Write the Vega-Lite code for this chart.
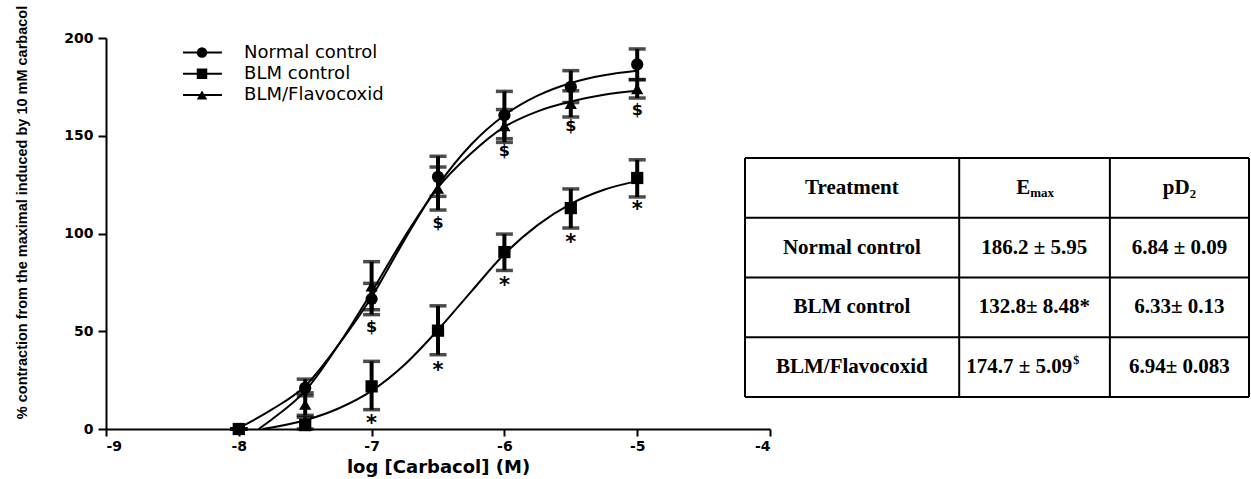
{
  "$schema": "https://vega.github.io/schema/vega-lite/v6.json",
  "autosize": {"type": "none"},
  "padding": {"left": 106, "top": 38, "right": 481, "bottom": 50},
  "width": 664,
  "height": 391,
  "background": "white",
  "config": {"view": {"stroke": null}},
  "datasets": {
    "points": [
      {"series": "BLM/Flavocoxid", "x": -8, "y": 0, "lo": 0, "hi": 0},
      {"series": "BLM/Flavocoxid", "x": -7.5, "y": 12.5, "lo": 7, "hi": 18.5},
      {"series": "BLM/Flavocoxid", "x": -7, "y": 73, "lo": 61, "hi": 85.6},
      {"series": "BLM/Flavocoxid", "x": -6.5, "y": 123, "lo": 112, "hi": 134},
      {"series": "BLM/Flavocoxid", "x": -6, "y": 155, "lo": 146.6, "hi": 163.4},
      {"series": "BLM/Flavocoxid", "x": -5.5, "y": 166.4, "lo": 159.6, "hi": 173},
      {"series": "BLM/Flavocoxid", "x": -5, "y": 174, "lo": 169.3, "hi": 178.7},
      {"series": "BLM control", "x": -8, "y": 0, "lo": 0, "hi": 0},
      {"series": "BLM control", "x": -7.5, "y": 2, "lo": 0, "hi": 6},
      {"series": "BLM control", "x": -7, "y": 21.8, "lo": 9.9, "hi": 34.6},
      {"series": "BLM control", "x": -6.5, "y": 50.3, "lo": 38, "hi": 63},
      {"series": "BLM control", "x": -6, "y": 90.5, "lo": 81.1, "hi": 99.7},
      {"series": "BLM control", "x": -5.5, "y": 113, "lo": 102.8, "hi": 122.8},
      {"series": "BLM control", "x": -5, "y": 128.4, "lo": 118.7, "hi": 137.7},
      {"series": "Normal control", "x": -8, "y": 0, "lo": 0, "hi": 0},
      {"series": "Normal control", "x": -7.5, "y": 21, "lo": 17, "hi": 25.5},
      {"series": "Normal control", "x": -7, "y": 66.5, "lo": 58.5, "hi": 74.5},
      {"series": "Normal control", "x": -6.5, "y": 129, "lo": 119, "hi": 139.5},
      {"series": "Normal control", "x": -6, "y": 160.5, "lo": 148.5, "hi": 172.7},
      {"series": "Normal control", "x": -5.5, "y": 175, "lo": 167, "hi": 183.3},
      {"series": "Normal control", "x": -5, "y": 186.5, "lo": 178.7, "hi": 194.4}
    ],
    "curves": [
      {"series": "Normal control", "x": -8, "y": 0.5},
      {"series": "Normal control", "x": -7.75, "y": 10},
      {"series": "Normal control", "x": -7.5, "y": 22},
      {"series": "Normal control", "x": -7.25, "y": 43},
      {"series": "Normal control", "x": -7, "y": 67.5},
      {"series": "Normal control", "x": -6.75, "y": 97},
      {"series": "Normal control", "x": -6.5, "y": 124.5},
      {"series": "Normal control", "x": -6.25, "y": 145.5},
      {"series": "Normal control", "x": -6, "y": 160.5},
      {"series": "Normal control", "x": -5.75, "y": 170.5},
      {"series": "Normal control", "x": -5.5, "y": 177},
      {"series": "Normal control", "x": -5.25, "y": 181},
      {"series": "Normal control", "x": -5, "y": 183.3},
      {"series": "BLM/Flavocoxid", "x": -7.85, "y": 0},
      {"series": "BLM/Flavocoxid", "x": -7.75, "y": 5},
      {"series": "BLM/Flavocoxid", "x": -7.5, "y": 19.5},
      {"series": "BLM/Flavocoxid", "x": -7.25, "y": 43},
      {"series": "BLM/Flavocoxid", "x": -7, "y": 70},
      {"series": "BLM/Flavocoxid", "x": -6.75, "y": 98.5},
      {"series": "BLM/Flavocoxid", "x": -6.5, "y": 123.5},
      {"series": "BLM/Flavocoxid", "x": -6.25, "y": 141},
      {"series": "BLM/Flavocoxid", "x": -6, "y": 154.5},
      {"series": "BLM/Flavocoxid", "x": -5.75, "y": 162.5},
      {"series": "BLM/Flavocoxid", "x": -5.5, "y": 167.5},
      {"series": "BLM/Flavocoxid", "x": -5.25, "y": 171},
      {"series": "BLM/Flavocoxid", "x": -5, "y": 173},
      {"series": "BLM control", "x": -7.82, "y": 0},
      {"series": "BLM control", "x": -7.5, "y": 4.5},
      {"series": "BLM control", "x": -7.25, "y": 10.5},
      {"series": "BLM control", "x": -7, "y": 19.5},
      {"series": "BLM control", "x": -6.75, "y": 33},
      {"series": "BLM control", "x": -6.5, "y": 50.7},
      {"series": "BLM control", "x": -6.25, "y": 70.3},
      {"series": "BLM control", "x": -6, "y": 89.5},
      {"series": "BLM control", "x": -5.75, "y": 104.3},
      {"series": "BLM control", "x": -5.5, "y": 115.2},
      {"series": "BLM control", "x": -5.25, "y": 122.4},
      {"series": "BLM control", "x": -5, "y": 126.8}
    ],
    "marks": [
      {"label": "$", "x": -7, "y": 52.3},
      {"label": "$", "x": -6.5, "y": 105.4},
      {"label": "$", "x": -6, "y": 142},
      {"label": "$", "x": -5.5, "y": 154.8},
      {"label": "$", "x": -5, "y": 163.3},
      {"label": "*", "x": -7, "y": 4.5},
      {"label": "*", "x": -6.5, "y": 31.8},
      {"label": "*", "x": -6, "y": 75.3},
      {"label": "*", "x": -5.5, "y": 97.4},
      {"label": "*", "x": -5, "y": 114.1}
    ],
    "legend": [
      {"series": "Normal control"},
      {"series": "BLM control"},
      {"series": "BLM/Flavocoxid"}
    ],
    "cells": [
      {"r": 0, "cx": 21.2, "text": "Treatment", "kind": "center"},
      {"r": 0, "cx": 57.4, "text": "E", "kind": "subBase"},
      {"r": 0, "cx": 57.4, "text": "max", "kind": "sub"},
      {"r": 0, "cx": 86.2, "text": "pD₂", "kind": "center"},
      {"r": 1, "cx": 21.2, "text": "Normal control", "kind": "center"},
      {"r": 1, "cx": 57.4, "text": "186.2 ± 5.95", "kind": "center"},
      {"r": 1, "cx": 86.2, "text": "6.84 ± 0.09", "kind": "center"},
      {"r": 2, "cx": 21.2, "text": "BLM control", "kind": "center"},
      {"r": 2, "cx": 57.4, "text": "132.8± 8.48*", "kind": "center"},
      {"r": 2, "cx": 86.2, "text": "6.33± 0.13", "kind": "center"},
      {"r": 3, "cx": 21.2, "text": "BLM/Flavocoxid", "kind": "center"},
      {"r": 3, "cx": 57.4, "text": "174.7 ± 5.09", "kind": "supBase"},
      {"r": 3, "cx": 57.4, "text": "$", "kind": "sup"},
      {"r": 3, "cx": 86.2, "text": "6.94± 0.083", "kind": "center"}
    ],
    "hlines": [{"r": -0.5}, {"r": 0.5}, {"r": 1.5}, {"r": 2.5}, {"r": 3.5}],
    "vlines": [{"cx": 0}, {"cx": 42.5}, {"cx": 72.4}, {"cx": 100}]
  },
  "layer": [
    {
      "layer": [
        {
          "data": {"name": "curves"},
          "mark": {"type": "line", "interpolate": "monotone", "color": "black", "strokeWidth": 2},
          "encoding": {
            "x": {"field": "x", "type": "quantitative", "scale": {"domain": [-9, -4], "nice": false, "zero": false},
              "axis": {"values": [-9, -8, -7, -6, -5, -4], "labelExpr": "'' + datum.value", "title": "log [Carbacol] (M)", "grid": false,
                "domainColor": "black", "domainWidth": 2, "tickColor": "black", "tickWidth": 2, "tickSize": 7,
                "labelFont": "DejaVu Sans", "labelFontWeight": "bold", "labelFontSize": 14, "labelColor": "black", "labelPadding": 3,
                "titleFont": "DejaVu Sans", "titleFontWeight": "bold", "titleFontSize": 18, "titleColor": "black", "titlePadding": 5}},
            "y": {"field": "y", "type": "quantitative", "scale": {"domain": [0, 200], "nice": false},
              "axis": {"values": [0, 50, 100, 150, 200], "title": "% contraction from the maximal induced by 10  mM carbacol", "grid": false,
                "domainColor": "black", "domainWidth": 2, "tickColor": "black", "tickWidth": 2, "tickSize": 8,
                "labelFont": "DejaVu Sans", "labelFontWeight": "bold", "labelFontSize": 14, "labelColor": "black", "labelPadding": 5,
                "titleFont": "Liberation Sans", "titleFontWeight": "bold", "titleFontSize": 14.5, "titleColor": "black",
                "titleX": -84, "titleY": 174, "titleAngle": -90, "titleAlign": "center", "titleBaseline": "middle"}},
            "detail": {"field": "series"}
          }
        },
        {
          "data": {"name": "points"},
          "mark": {"type": "rule", "color": "black", "strokeWidth": 4},
          "encoding": {
            "x": {"field": "x", "type": "quantitative"},
            "y": {"field": "lo", "type": "quantitative"},
            "y2": {"field": "hi"}
          }
        },
        {
          "data": {"name": "points"},
          "mark": {"type": "tick", "orient": "horizontal", "color": "black", "size": 17, "thickness": 3.5},
          "encoding": {
            "x": {"field": "x", "type": "quantitative"},
            "y": {"field": "lo", "type": "quantitative"}
          }
        },
        {
          "data": {"name": "points"},
          "mark": {"type": "tick", "orient": "horizontal", "color": "black", "size": 17, "thickness": 3.5},
          "encoding": {
            "x": {"field": "x", "type": "quantitative"},
            "y": {"field": "hi", "type": "quantitative"}
          }
        },
        {
          "data": {"name": "points"},
          "mark": {"type": "point", "filled": true, "color": "black", "opacity": 1, "size": 150},
          "encoding": {
            "x": {"field": "x", "type": "quantitative"},
            "y": {"field": "y", "type": "quantitative"},
            "shape": {"field": "series", "type": "nominal",
              "scale": {"domain": ["Normal control", "BLM control", "BLM/Flavocoxid"], "range": ["circle", "square", "triangle-up"]},
              "legend": null}
          }
        },
        {
          "data": {"name": "marks"},
          "transform": [{"filter": "datum.label === '$'"}],
          "mark": {"type": "text", "color": "black", "font": "DejaVu Sans", "fontWeight": "bold", "fontSize": 16, "baseline": "middle", "align": "center"},
          "encoding": {
            "x": {"field": "x", "type": "quantitative"},
            "y": {"field": "y", "type": "quantitative"},
            "text": {"field": "label"}
          }
        },
        {
          "data": {"name": "marks"},
          "transform": [{"filter": "datum.label === '*'"}],
          "mark": {"type": "text", "color": "black", "font": "DejaVu Sans", "fontWeight": "bold", "fontSize": 21, "baseline": "middle", "align": "center", "dy": 4},
          "encoding": {
            "x": {"field": "x", "type": "quantitative"},
            "y": {"field": "y", "type": "quantitative"},
            "text": {"field": "label"}
          }
        }
      ]
    },
    {
      "data": {"name": "legend"},
      "layer": [
        {
          "mark": {"type": "rule", "color": "black", "strokeWidth": 2},
          "encoding": {
            "x": {"datum": -8.42, "type": "quantitative", "scale": {"domain": [-9, -4], "nice": false, "zero": false}, "axis": null},
            "x2": {"datum": -8.127},
            "y": {"field": "series", "type": "nominal", "sort": null,
              "scale": {"type": "point", "padding": 0, "domain": ["Normal control", "BLM control", "BLM/Flavocoxid"], "range": [14.5, 57]}, "axis": null}
          }
        },
        {
          "mark": {"type": "point", "filled": true, "color": "black", "opacity": 1, "size": 110},
          "encoding": {
            "x": {"datum": -8.277, "type": "quantitative"},
            "y": {"field": "series", "type": "nominal", "sort": null},
            "shape": {"field": "series", "type": "nominal",
              "scale": {"domain": ["Normal control", "BLM control", "BLM/Flavocoxid"], "range": ["circle", "square", "triangle-up"]},
              "legend": null}
          }
        },
        {
          "mark": {"type": "text", "color": "black", "font": "DejaVu Sans", "fontSize": 18, "align": "left", "baseline": "middle"},
          "encoding": {
            "x": {"datum": -7.96, "type": "quantitative"},
            "y": {"field": "series", "type": "nominal", "sort": null},
            "text": {"field": "series"}
          }
        }
      ]
    },
    {
      "layer": [
        {
          "data": {"name": "hlines"},
          "mark": {"type": "rule", "color": "black", "strokeWidth": 2},
          "encoding": {
            "y": {"field": "r", "type": "quantitative", "scale": {"domain": [-2.508, 4.035], "reverse": true, "nice": false, "zero": false}, "axis": null},
            "x": {"datum": 0, "type": "quantitative", "scale": {"domain": [-126.79, 4.96], "nice": false, "zero": false}, "axis": null},
            "x2": {"datum": 100}
          }
        },
        {
          "data": {"name": "vlines"},
          "mark": {"type": "rule", "color": "black", "strokeWidth": 2},
          "encoding": {
            "x": {"field": "cx", "type": "quantitative"},
            "y": {"datum": -0.5, "type": "quantitative"},
            "y2": {"datum": 3.5}
          }
        },
        {
          "data": {"name": "cells"},
          "transform": [{"filter": "datum.kind === 'center'"}],
          "mark": {"type": "text", "color": "black", "font": "Liberation Serif", "fontWeight": "bold", "fontSize": 21, "baseline": "middle", "align": "center"},
          "encoding": {
            "x": {"field": "cx", "type": "quantitative"},
            "y": {"field": "r", "type": "quantitative"},
            "text": {"field": "text"}
          }
        },
        {
          "data": {"name": "cells"},
          "transform": [{"filter": "datum.kind === 'subBase'"}],
          "mark": {"type": "text", "color": "black", "font": "Liberation Serif", "fontWeight": "bold", "fontSize": 21, "baseline": "middle", "align": "right", "dx": -4},
          "encoding": {
            "x": {"field": "cx", "type": "quantitative"},
            "y": {"field": "r", "type": "quantitative"},
            "text": {"field": "text"}
          }
        },
        {
          "data": {"name": "cells"},
          "transform": [{"filter": "datum.kind === 'sub'"}],
          "mark": {"type": "text", "color": "black", "font": "Liberation Serif", "fontWeight": "bold", "fontSize": 13, "baseline": "middle", "align": "left", "dx": -4, "dy": 5},
          "encoding": {
            "x": {"field": "cx", "type": "quantitative"},
            "y": {"field": "r", "type": "quantitative"},
            "text": {"field": "text"}
          }
        },
        {
          "data": {"name": "cells"},
          "transform": [{"filter": "datum.kind === 'supBase'"}],
          "mark": {"type": "text", "color": "black", "font": "Liberation Serif", "fontWeight": "bold", "fontSize": 21, "baseline": "middle", "align": "right", "dx": 38},
          "encoding": {
            "x": {"field": "cx", "type": "quantitative"},
            "y": {"field": "r", "type": "quantitative"},
            "text": {"field": "text"}
          }
        },
        {
          "data": {"name": "cells"},
          "transform": [{"filter": "datum.kind === 'sup'"}],
          "mark": {"type": "text", "color": "black", "font": "Liberation Serif", "fontWeight": "bold", "fontSize": 12, "baseline": "middle", "align": "left", "dx": 39, "dy": -7},
          "encoding": {
            "x": {"field": "cx", "type": "quantitative"},
            "y": {"field": "r", "type": "quantitative"},
            "text": {"field": "text"}
          }
        }
      ]
    }
  ],
  "resolve": {"scale": {"x": "independent", "y": "independent"}}
}
